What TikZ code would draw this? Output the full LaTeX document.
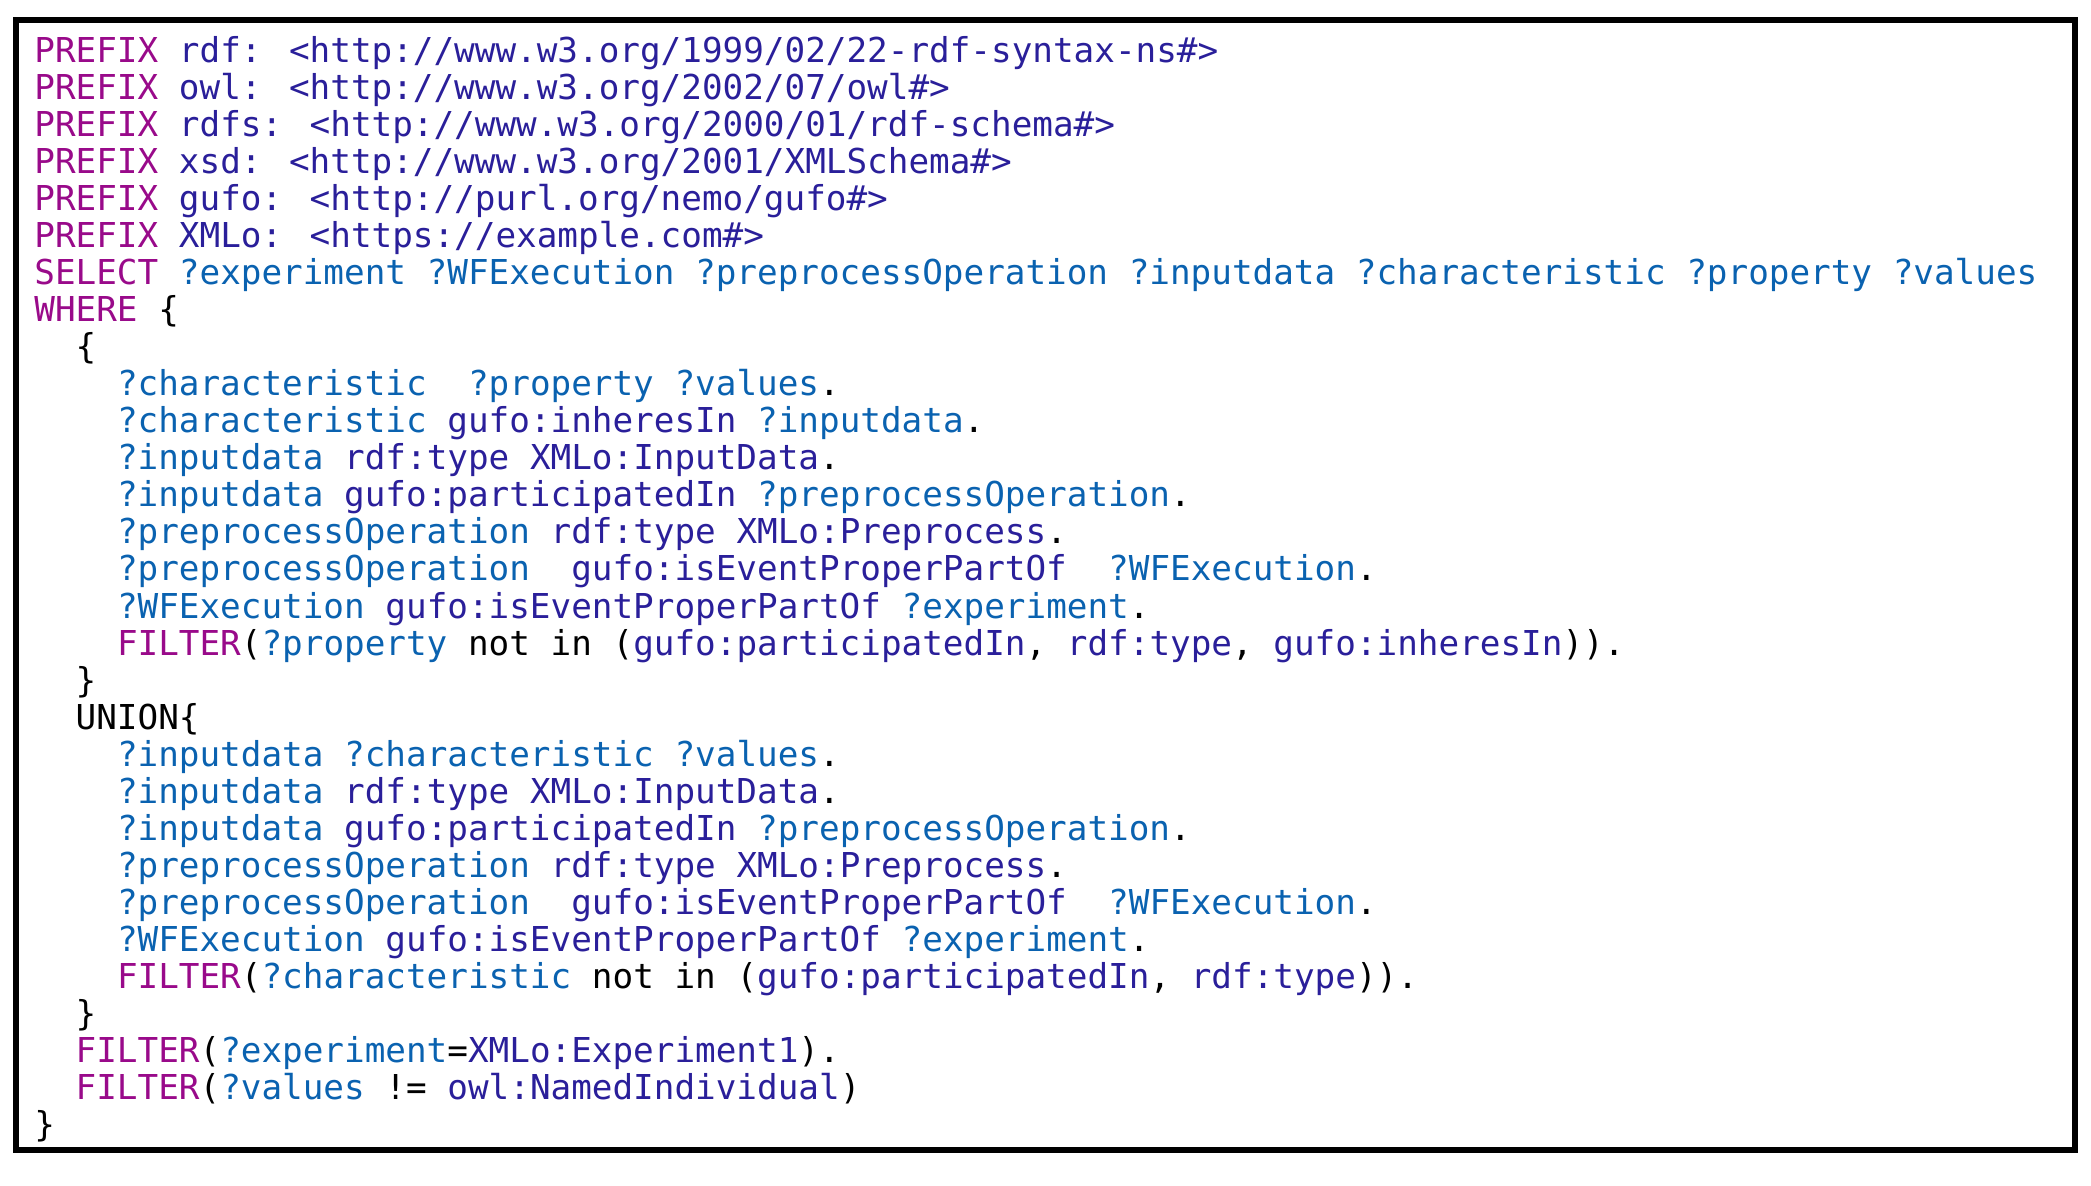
\documentclass[tikz,border=0pt]{standalone}
\usepackage{fontspec}
\newfontfamily\codefont{DejaVu Sans Mono}
\definecolor{kw}{HTML}{990A8A}
\definecolor{var}{HTML}{0A62B0}
\definecolor{nm}{HTML}{2A1F9A}
\newcommand{\K}[1]{\textcolor{kw}{#1}}
\newcommand{\V}[1]{\textcolor{var}{#1}}
\newcommand{\N}[1]{\textcolor{nm}{#1}}
\tikzset{codeline/.style={anchor=base west,inner sep=0pt,font=\codefont\fontsize{17.15pt}{18.5pt}\selectfont}}
\begin{document}
\begin{tikzpicture}[x=0.5pt,y=-0.5pt]
\useasboundingbox (0,0) rectangle (2091,1186);
\draw[line width=3pt] (15.5,20) rectangle (2075,1150);
\newcommand{\CL}[3]{\node[codeline] (l#1) at ({34+20.65*#2},{63+37*#1}) {#3};}
\CL{0}{0}{\K{PREFIX} \N{rdf: <http://www.w3.org/1999/02/22-rdf-syntax-ns\#>}}
\CL{1}{0}{\K{PREFIX} \N{owl: <http://www.w3.org/2002/07/owl\#>}}
\CL{2}{0}{\K{PREFIX} \N{rdfs: <http://www.w3.org/2000/01/rdf-schema\#>}}
\CL{3}{0}{\K{PREFIX} \N{xsd: <http://www.w3.org/2001/XMLSchema\#>}}
\CL{4}{0}{\K{PREFIX} \N{gufo: <http://purl.org/nemo/gufo\#>}}
\CL{5}{0}{\K{PREFIX} \N{XMLo: <https://example.com\#>}}
\CL{6}{0}{\K{SELECT} \V{?experiment ?WFExecution ?preprocessOperation ?inputdata ?characteristic ?property ?values}}
\CL{7}{0}{\K{WHERE} \{}
\CL{8}{2}{\{}
\CL{9}{4}{\V{?characteristic}~\ \V{?property} \V{?values}.}
\CL{10}{4}{\V{?characteristic} \N{gufo:inheresIn} \V{?inputdata}.}
\CL{11}{4}{\V{?inputdata} \N{rdf:type} \N{XMLo:InputData}.}
\CL{12}{4}{\V{?inputdata} \N{gufo:participatedIn} \V{?preprocessOperation}.}
\CL{13}{4}{\V{?preprocessOperation} \N{rdf:type} \N{XMLo:Preprocess}.}
\CL{14}{4}{\V{?preprocessOperation}~\ \N{gufo:isEventProperPartOf}~\ \V{?WFExecution}.}
\CL{15}{4}{\V{?WFExecution} \N{gufo:isEventProperPartOf} \V{?experiment}.}
\CL{16}{4}{\K{FILTER}(\V{?property} not in (\N{gufo:participatedIn}, \N{rdf:type}, \N{gufo:inheresIn})).}
\CL{17}{2}{\}}
\CL{18}{2}{UNION\{}
\CL{19}{4}{\V{?inputdata} \V{?characteristic} \V{?values}.}
\CL{20}{4}{\V{?inputdata} \N{rdf:type} \N{XMLo:InputData}.}
\CL{21}{4}{\V{?inputdata} \N{gufo:participatedIn} \V{?preprocessOperation}.}
\CL{22}{4}{\V{?preprocessOperation} \N{rdf:type} \N{XMLo:Preprocess}.}
\CL{23}{4}{\V{?preprocessOperation}~\ \N{gufo:isEventProperPartOf}~\ \V{?WFExecution}.}
\CL{24}{4}{\V{?WFExecution} \N{gufo:isEventProperPartOf} \V{?experiment}.}
\CL{25}{4}{\K{FILTER}(\V{?characteristic} not in (\N{gufo:participatedIn}, \N{rdf:type})).}
\CL{26}{2}{\}}
\CL{27}{2}{\K{FILTER}(\V{?experiment}=\N{XMLo:Experiment1}).}
\CL{28}{2}{\K{FILTER}(\V{?values} != \N{owl:NamedIndividual})}
\CL{29}{0}{\}}
\end{tikzpicture}
\end{document}
